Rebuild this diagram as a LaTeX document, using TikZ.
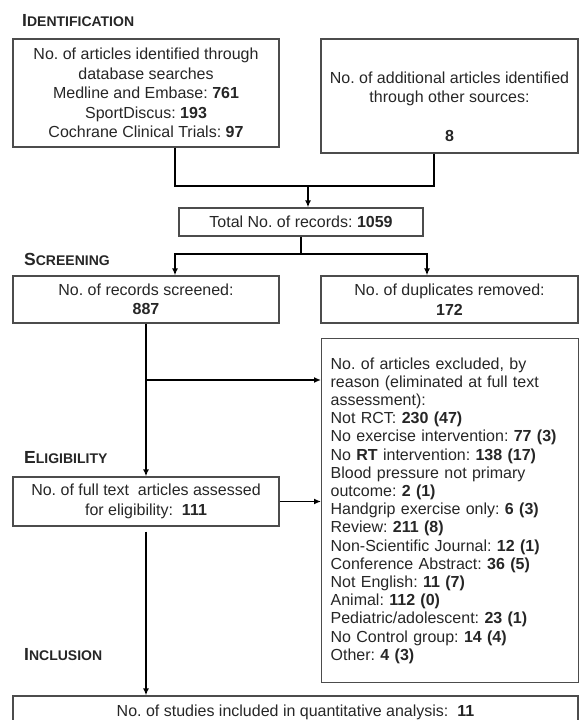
\documentclass[tikz,border=0pt]{standalone}
\usepackage{fontspec}
\setmainfont{Liberation Sans}
\usepackage{tikz}
\usetikzlibrary{arrows.meta, positioning, calc}

\frenchspacing
\newcommand{\stagehead}[2]{{\fontsize{17.5pt}{18pt}\selectfont #1}{\fontsize{14pt}{14pt}\selectfont #2}}

\begin{document}
\begin{tikzpicture}[
    x=1pt, y=-1pt,
    box/.style={draw=black!70, line width=1.3pt, rectangle, inner sep=0pt, align=center, text=black!85, font=\fontsize{16pt}{19.5pt}\selectfont},
    stage/.style={anchor=west, inner sep=0pt, font=\bfseries, text=black!85},
    line/.style={line width=1.8pt},
    arrow/.style={-{Latex[length=7pt, width=6pt]}, line width=1.8pt},
    >=Latex
]
\useasboundingbox (0,0) rectangle (579,720);

% Identification
\node[stage] (identification) at (22,21) {\stagehead{I}{DENTIFICATION}};

\node[box, minimum width=266pt, minimum height=108pt] (db-search) at (146,93) {No. of articles identified through\\ database searches\\ Medline and Embase: \textbf{761}\\ SportDiscus: \textbf{193}\\ Cochrane Clinical Trials: \textbf{97}};
\node[box, minimum width=257pt, minimum height=114pt] (other-sources) at (449.5,96) {\strut\\ No. of additional articles identified\\ through other sources:\\ \strut\\ \textbf{8}};

\node[box, minimum width=244pt, minimum height=28pt] (total) at (301,222) {Total No. of records: \textbf{1059}};

% Screening
\node[stage] (screening) at (24,259) {\stagehead{S}{CREENING}};

\node[box, minimum width=266pt, minimum height=47pt] (screened) at (146,299.5) {No. of records screened:\\ \textbf{887}};
\node[box, minimum width=257pt, minimum height=47pt] (duplicates) at (449.5,299.5) {No. of duplicates removed:\\ \textbf{172}};

\node[box, align=left, text width=239pt, inner xsep=9pt, minimum height=344pt, anchor=north west, font=\fontsize{16pt}{18.2pt}\selectfont] (excluded) at (321,338) {No. of articles excluded, by\\ reason (eliminated at full text\\ assessment):\\ Not RCT: \textbf{230 (47)}\\ No exercise intervention: \textbf{77 (3)}\\ No \textbf{RT} intervention: \textbf{138 (17)}\\ Blood pressure not primary\\ outcome: \textbf{2 (1)}\\ Handgrip exercise only: \textbf{6 (3)}\\ Review: \textbf{211 (8)}\\ Non-Scientific Journal: \textbf{12 (1)}\\ Conference Abstract: \textbf{36 (5)}\\ Not English: \textbf{11 (7)}\\ Animal: \textbf{112 (0)}\\ Pediatric/adolescent: \textbf{23 (1)}\\ No Control group: \textbf{14 (4)}\\ Other: \textbf{4 (3)}};

% Eligibility
\node[stage] (eligibility) at (24,458) {\stagehead{E}{LIGIBILITY}};

\node[box, minimum width=266pt, minimum height=49pt] (full-text) at (146,501.5) {No. of full text\ \ articles assessed\\ for eligibility:\ \ \textbf{111}};

% Inclusion
\node[stage] (inclusion) at (24,655) {\stagehead{I}{NCLUSION}};

\node[box, minimum width=565pt, minimum height=32pt] (included) at (295.5,712) {No. of studies included in quantitative analysis:\ \ \textbf{11}};

% Connectors
\coordinate (merge) at (308,186);
\coordinate (split) at (301,254);
\coordinate (branch) at (146,380);

\draw[line] ([xshift=29pt]db-search.south) |- (merge);
\draw[line] ([xshift=-15.5pt]other-sources.south) |- (merge);
\draw[arrow] (merge) -- (merge |- total.north);

\draw[line] (total.south) -- (split);
\draw[arrow] (split) -| ([xshift=29pt]screened.north);
\draw[arrow] (split) -| ([xshift=-22.5pt]duplicates.north);

\draw[arrow] (screened.south) -- (full-text.north);
\draw[arrow] (branch) -- (branch -| excluded.west);
\draw[arrow] (full-text.east) -- (full-text.east -| excluded.west);
\draw[arrow] ([yshift=-5pt]full-text.south) -- (full-text.south |- included.north);

\end{tikzpicture}
\end{document}
